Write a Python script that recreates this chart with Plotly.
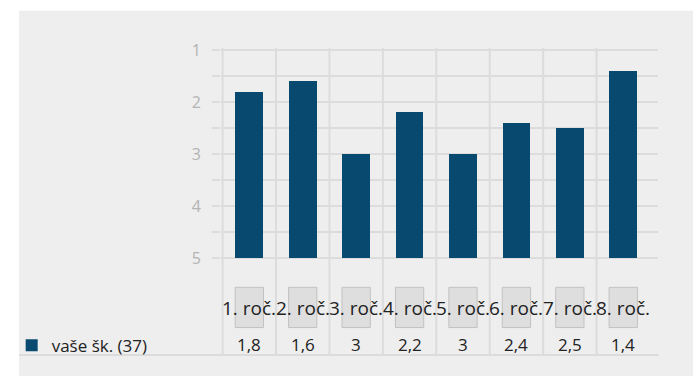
import plotly.graph_objects as go

# data
categories = ["1. roč.", "2. roč.", "3. roč.", "4. roč.", "5. roč.", "6. roč.", "7. roč.", "8. roč."]
values = [1.8, 1.6, 3, 2.2, 3, 2.4, 2.5, 1.4]
series_name = "vaše šk. (37)"
y_ticks = [1, 2, 3, 4, 5]
y_minor = [1.5, 2.5, 3.5, 4.5]

COLORS = {
    "panel": "#eeeeee",
    "grid": "#dcdcdc",
    "bar": "#07496f",
    "box": "#dedede",
    "box_line": "#c2c2c2",
    "text": "#222222",
    "tick": "#b4b4b4",
}
FONT = "Open Sans, Noto Sans, sans-serif"

base = max(y_ticks)
x_idx = list(range(len(categories)))

fig = go.Figure(
    go.Bar(
        x=x_idx,
        y=[v - base for v in values],
        base=base,
        width=0.52,
        name=series_name,
        marker=dict(color=COLORS["bar"], line_width=0),
        hovertemplate="%{customdata}<extra></extra>",
        customdata=values,
    )
)

shapes = []
# gray panel behind everything
shapes.append(dict(type="rect", xref="paper", yref="paper",
                   x0=-0.462, x1=1.2, y0=-0.2, y1=1.121,
                   fillcolor=COLORS["panel"], line_width=0, layer="below"))
# vertical separators between categories
for i in x_idx:
    shapes.append(dict(type="line", xref="x", yref="paper",
                       x0=i - 0.5, x1=i - 0.5, y0=0, y1=1,
                       line=dict(color=COLORS["grid"], width=2), layer="below"))
# bottom rule under the table
shapes.append(dict(type="line", xref="paper", yref="paper",
                   x0=-0.462, x1=1.002, y0=0, y1=0,
                   line=dict(color=COLORS["grid"], width=2), layer="below"))
# gray boxes under each category
for i in x_idx:
    shapes.append(dict(type="rect", xref="x", yref="y",
                       x0=i - 0.265, x1=i + 0.265, y0=5.566, y1=6.34,
                       fillcolor=COLORS["box"],
                       line=dict(color=COLORS["box_line"], width=1), layer="below"))

annotations = []
for i, (cat, v) in enumerate(zip(categories, values)):
    annotations.append(dict(x=i, y=5.96, xref="x", yref="y", text=cat,
                            showarrow=False, font=dict(size=19, color=COLORS["text"])))
    annotations.append(dict(x=i, y=6.66, xref="x", yref="y",
                            text=f"{v:g}".replace(".", ","),
                            showarrow=False, font=dict(size=17, color=COLORS["text"])))

fig.update_layout(
    width=693,
    height=376,
    paper_bgcolor="white",
    plot_bgcolor="rgba(0,0,0,0)",
    font=dict(family=FONT, color=COLORS["text"]),
    margin=dict(l=214, r=35, t=48, b=15),
    shapes=shapes,
    annotations=annotations,
    showlegend=True,
    legend=dict(
        x=-0.479, y=0.03, xanchor="left", yanchor="middle",
        bgcolor="rgba(0,0,0,0)",
        font=dict(size=17, color=COLORS["text"]),
        itemclick=False,
    ),
    bargap=0,
)

fig.update_xaxes(
    range=[-0.53, 7.65],
    showgrid=False,
    showticklabels=False,
    zeroline=False,
    showline=False,
    ticks="",
    fixedrange=True,
)

fig.update_yaxes(
    range=[6.868, 0.962],
    tickmode="array",
    tickvals=y_ticks,
    ticktext=[str(t) for t in y_ticks],
    showgrid=True,
    gridcolor=COLORS["grid"],
    gridwidth=2,
    ticks="outside",
    ticklen=8,
    tickwidth=2,
    tickcolor=COLORS["grid"],
    ticklabelstandoff=8,
    tickfont=dict(size=16, color=COLORS["tick"]),
    minor=dict(tickmode="array", tickvals=y_minor, showgrid=True,
               gridcolor=COLORS["grid"], gridwidth=2,
               ticks="outside", ticklen=8, tickwidth=2, tickcolor=COLORS["grid"]),
    zeroline=False,
    showline=False,
    fixedrange=True,
)

# page has a default body margin; drop it so the figure sits at 0,0
fig.write_html("out.html", config={"displayModeBar": False},
               post_script="document.body.style.margin='0';")
